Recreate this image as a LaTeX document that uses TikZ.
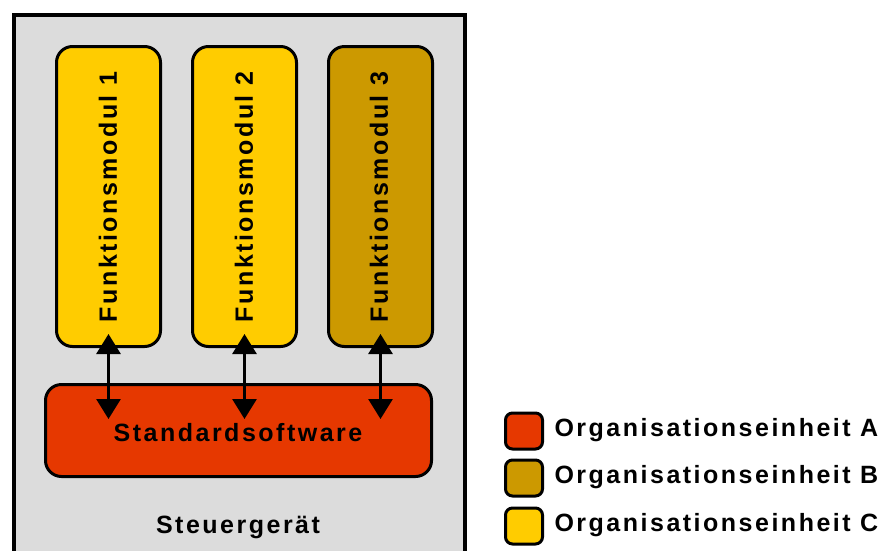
\documentclass[tikz,border=0pt]{standalone}
\usepackage{fontspec}
\setmainfont{Liberation Sans}
\newfontfamily\widebold[LetterSpace=10]{Liberation Sans Bold}
\usetikzlibrary{arrows.meta,calc}
\definecolor{boxgray}{HTML}{DCDCDC}
\definecolor{orgA}{HTML}{E63800}
\definecolor{orgB}{HTML}{CC9900}
\definecolor{orgC}{HTML}{FFCC00}
\tikzset{
  outline/.style={draw=black, line width=3pt},
  lbl/.style={font=\fontsize{25}{30}\selectfont\widebold},
  modbox/.style={outline, rounded corners=16pt, minimum width=104pt, minimum height=300pt, inner sep=0pt},
  modlabel/.style={lbl, rotate=90},
  link/.style={line width=3pt, {Triangle[width=24pt,length=20pt]}-{Triangle[width=24pt,length=20pt]}},
  legbox/.style={outline, rounded corners=7pt, minimum width=37pt, minimum height=36pt, inner sep=0pt},
  legtext/.style={lbl, anchor=west},
}
\begin{document}
\begin{tikzpicture}[x=1pt,y=-1pt]
  \useasboundingbox (0,0) rectangle (887,550);
  \clip (0,0) rectangle (887,550);
  % control unit frame
  \node[draw=black, line width=4pt, fill=boxgray, minimum width=451pt, minimum height=544pt, inner sep=0pt, anchor=north west] (ecu) at (12,13) {};
  % function modules
  \node[modbox, fill=orgC, anchor=north west] (m1) at (55,45) {};
  \node[modbox, fill=orgC, anchor=north west] (m2) at (191,45) {};
  \node[modbox, fill=orgB, anchor=north west] (m3) at (327,45) {};
  \node[modlabel] (t1) at (108,197) {Funktionsmodul 1};
  \node[modlabel] (t2) at (244,197) {Funktionsmodul 2};
  \node[modlabel] (t3) at (379,197) {Funktionsmodul 3};
  % standard software
  \node[outline, fill=orgA, rounded corners=16pt, minimum width=386pt, minimum height=92pt, inner sep=0pt, anchor=north west] (std) at (44,383) {};
  \node[lbl] (stdt) at (238,433) {Standardsoftware};
  \node[lbl] (ecut) at (238,527) {Steuergerät};
  % links between modules and standard software
  \foreach \m in {m1,m2,m3}{
    \draw[link] ([yshift=14pt]\m.south) -- ([yshift=-36pt]\m.south |- std.north);
  }
  % legend
  \node[legbox, fill=orgA] (la) at (524,431) {};
  \node[legbox, fill=orgB] (lb) at (524,478) {};
  \node[legbox, fill=orgC] (lc) at (524,526) {};
  \node[legtext] (lat) at (551,430) {Organisationseinheit A};
  \node[legtext] (lbt) at (551,477) {Organisationseinheit B};
  \node[legtext] (lct) at (551,525) {Organisationseinheit C};
\end{tikzpicture}
\end{document}
